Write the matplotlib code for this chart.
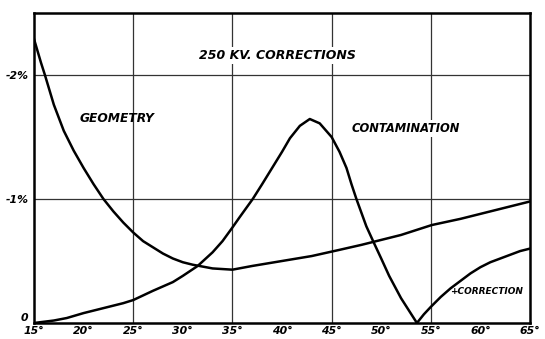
import matplotlib
matplotlib.use("Agg")
import matplotlib.pyplot as plt

# Donnees (angle en degres, correction en %)
geo_angle = [15, 15.7, 16.1, 17, 18, 19, 20, 21, 22, 23, 24, 25, 26, 27, 28, 29, 30, 31, 32, 33,
             34, 35, 37, 40, 43, 45.8, 48, 50, 52, 55.1, 58, 60, 62, 65]
geo_value = [2.29, 2.10, 2.0, 1.76, 1.55, 1.39, 1.25, 1.12, 1.00, 0.90, 0.81, 0.73, 0.66, 0.61, 0.56,
             0.52, 0.49, 0.47, 0.455, 0.44, 0.435, 0.43, 0.46, 0.50, 0.54, 0.59, 0.63, 0.67, 0.71,
             0.79, 0.84, 0.88, 0.92, 0.98]

cont_angle = [15, 16, 17, 18.3, 20, 22, 24, 25, 27, 29, 30, 31.5, 33, 34, 35, 35.7, 37.05, 38, 39,
              40, 40.8, 41.8, 42.8, 43.8, 45.0, 45.8, 46.5, 47, 47.5, 48, 48.5, 49.3, 50, 50.8, 52, 53.6]
cont_value = [0.0, 0.01, 0.02, 0.04, 0.08, 0.12, 0.16, 0.185, 0.26, 0.33, 0.38, 0.46, 0.57, 0.66,
              0.77, 0.85, 1.0, 1.12, 1.25, 1.38, 1.49, 1.59, 1.645, 1.61, 1.50, 1.38, 1.25, 1.12,
              1.0, 0.89, 0.78, 0.64, 0.52, 0.38, 0.20, 0.0]

plus_angle = [53.6, 54.3, 55, 56, 57, 58, 59, 60, 61, 62, 63, 64, 65]
plus_value = [0.0, 0.07, 0.13, 0.21, 0.28, 0.34, 0.40, 0.45, 0.49, 0.52, 0.55, 0.58, 0.60]

x_ticks = [15, 20, 25, 30, 35, 40, 45, 50, 55, 60, 65]
x_labels = ['15°', '20°', '25°', '30°', '35°', '40°', '45°', '50°', '55°', '60°', '65°']
y_ticks = [0, 1, 2]
y_labels = ['0', '-1%', '-2%']
grid_x = [25, 35, 45, 55]

fig = plt.figure(figsize=(5.45, 3.39), dpi=100)
ax = fig.add_axes([0.0624, 0.0472, 0.9101, 0.9145])

# Grille
for gx in grid_x:
    ax.axvline(gx, color='#333333', lw=0.9, zorder=1)
for gy in [1, 2]:
    ax.axhline(gy, color='#333333', lw=0.9, zorder=1)

# Courbes
ax.plot(geo_angle, geo_value, color='black', lw=1.8, zorder=3)
ax.plot(cont_angle, cont_value, color='black', lw=1.8, zorder=3)
ax.plot(plus_angle, plus_value, color='black', lw=1.8, zorder=3)

ax.set_xlim(15, 65)
ax.set_ylim(0, 2.5)

style = dict(fontstyle='italic', fontweight='bold', color='black', family='DejaVu Sans')
box = dict(facecolor='white', edgecolor='none', pad=1.5)

ax.text(39.5, 2.16, '250 KV. CORRECTIONS', fontsize=9, ha='center', va='center', bbox=box, zorder=4, **style)
ax.text(23.4, 1.65, 'GEOMETRY', fontsize=8.8, ha='center', va='center', zorder=4, **style)
ax.text(52.5, 1.57, 'CONTAMINATION', fontsize=8.3, ha='center', va='center', bbox=box, zorder=4, **style)
ax.text(60.6, 0.25, '+CORRECTION', fontsize=6.5, ha='center', va='center', zorder=4, **style)

ax.set_xticks(x_ticks)
ax.set_xticklabels(x_labels, fontsize=7.8, fontstyle='italic', fontweight='bold')
ax.set_yticks(y_ticks)
ax.set_yticklabels(y_labels, fontsize=7.8, fontstyle='italic', fontweight='bold')
ax.tick_params(axis='x', length=0, pad=2)
ax.tick_params(axis='y', length=0, pad=4)
# le "0" est un peu au-dessus de l'axe pour ne pas toucher "15°"
ax.get_yticklabels()[0].set_va('bottom')

for s in ax.spines.values():
    s.set_linewidth(1.8)

fig.savefig('out.png', dpi=100)
